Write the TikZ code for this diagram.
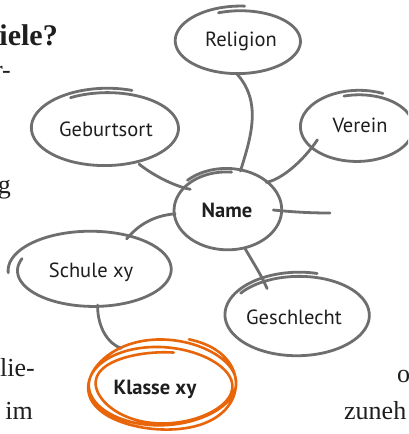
\documentclass[tikz,border=0pt]{standalone}
\usepackage{fontspec}
\setmainfont{Liberation Serif}
\newfontfamily\handfont{PT Sans}
\usetikzlibrary{shapes.geometric}
\definecolor{pen}{HTML}{6E6E6E}
\definecolor{marker}{HTML}{E8650A}
\definecolor{ink}{HTML}{1E1E1E}
% hand drawn ring: style, cx, cy, rx, ry, start angle, span, d rx, d ry
\newcommand\handring[9]{%
  \draw[#1] plot[domain=#6:#6+#7, samples=140, smooth, variable=\t]
    ({#2+(#4+(#8)*(\t-#6)/#7)*cos(\t)},{#3+(#5+(#9)*(\t-#6)/#7)*sin(\t)});}
\begin{document}
\begin{tikzpicture}[x=1pt,y=-1pt,
  bub/.style={ellipse, inner sep=0pt, draw=none},
  lbl/.style={font=\handfont\fontsize{20.5}{24}\selectfont, text=ink, inner sep=0pt},
  lblb/.style={font=\handfont\bfseries\fontsize{20.5}{24}\selectfont, text=ink, inner sep=0pt},
  ring/.style={draw=pen, line width=2.8pt, line cap=round, line join=round},
  mk/.style={draw=marker, line width=2.6pt, line cap=round, line join=round},
  link/.style={draw=pen, line width=2.8pt, line cap=round},
  bg/.style={font=\fontsize{26}{30}\selectfont, text=ink, inner sep=0pt},
  bgb/.style={font=\bfseries\fontsize{30}{34}\selectfont, text=ink, inner sep=0pt}]
\useasboundingbox (0,0) rectangle (408,434);
\clip (0,0) rectangle (408,434);
\fill[white] (0,0) rectangle (408,434);

% background text fragments
\node[bgb, anchor=base east] (t1) at (58,45) {iele?};
\node[bg, anchor=base east] (t2) at (11,78) {r-};
\node[bg, anchor=base east] (t3) at (11,193) {g};
\node[bg, anchor=base east] (t4) at (35,376) {lie-};
\node[bg, anchor=base east] (t5) at (33,419) {im};
\node[bg, anchor=base west] (t6) at (397,382) {o};
\node[bg, anchor=base west] (t7) at (344,419) {zuneh};

% bubble shapes (for anchors)
\node[bub, minimum width=124pt, minimum height=64pt] (rel) at (239,41) {};
\node[bub, minimum width=146pt, minimum height=74pt] (geb) at (106,128) {};
\node[bub, minimum width=112pt, minimum height=68pt] (ver) at (358,127) {};
\node[bub, minimum width=108pt, minimum height=80pt] (nam) at (227,210) {};
\node[bub, minimum width=148pt, minimum height=70pt] (sch) at (92,270) {};
\node[bub, minimum width=144pt, minimum height=80pt] (ges) at (298,315) {};
\node[bub, minimum width=146pt, minimum height=88pt] (kla) at (162,385) {};
\coordinate (stub) at (330,213);

% connectors
\draw[link] (rel.-95) .. controls +(26,28) and +(11,-35) .. (nam.71);
\draw[link] ([shift={(4,-8)}]ver.205) .. controls +(-12,18) and +(18,-4) .. (nam.35);
\draw[link] ([shift={(0,3)}]geb.-45) .. controls +(15,12) and +(-15,-3) .. ([shift={(6,4)}]nam.150);
\draw[link] ([shift={(-8,0)}]nam.east) .. controls +(20,2) and +(-20,0) .. (stub);
\draw[link] ([shift={(2,0)}]nam.184) .. controls +(-22,2) and +(12,-14) .. (sch.42);
\draw[link] (nam.-65) .. controls +(8,14) and +(-6,-14) .. ([shift={(9,7)}]ges.140);
\draw[link] (sch.-81) .. controls +(0,24) and +(-12,-4) .. (kla.138);

% hand drawn rings
\handring{ring}{239}{41}{60}{30}{250}{385}{5}{5}
\handring{ring}{106}{128}{71}{35}{240}{410}{5}{5}
\handring{ring}{358}{127}{54}{32}{255}{400}{5}{5}
\handring{ring}{227}{210}{56}{42}{225}{410}{-4}{-4}
\handring{ring}{92}{270}{84}{40}{176}{383}{-10}{-5}
\handring{ring}{298}{315}{70}{38}{215}{430}{4}{5}
\draw[mk] plot[domain=290:1360, samples=320, smooth, variable=\t]
  ({162+(77-11*(\t-290)/1070+2.5*sin(1.7*\t))*cos(\t)},{385+(48-14*(\t-290)/1070+2*sin(1.3*\t))*sin(\t)});

% labels
\node[lbl] (relt) at (241,41) {Religion};
\node[lbl] (gebt) at (106,129) {Geburtsort};
\node[lbl] (vert) at (360,125) {Verein};
\node[lblb] (namt) at (227,210) {Name};
\node[lbl] (scht) at (91,272) {Schule xy};
\node[lbl] (gest) at (294,317) {Geschlecht};
\node[lblb] (klat) at (155,389) {Klasse xy};
\end{tikzpicture}
\end{document}
